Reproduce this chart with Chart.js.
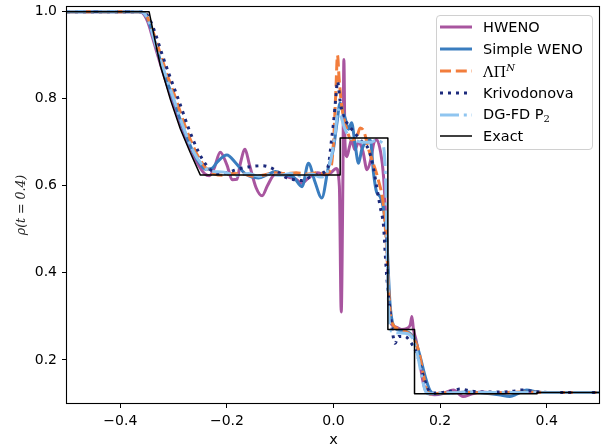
<!DOCTYPE html>
<html>
<head>
<meta charset="utf-8">
<script src="https://cdn.jsdelivr.net/npm/chart.js@4/dist/chart.umd.min.js"></script>
<style>
  html, body { margin: 0; padding: 0; background: #fff; }
  #wrap { position: relative; width: 601px; height: 447px; font-family: 'DejaVu Sans', sans-serif; }
  #legend {
    position: absolute; left: 436px; top: 15px; width: 155px;
    padding: 0 0 2px 0; border: 1px solid #d0d0d0; border-radius: 4px;
    background: rgba(255,255,255,0.8); font-size: 14.5px; color: #000;
  }
  .row { height: 21.9px; display: flex; align-items: center; white-space: nowrap; }
  .row svg { flex: none; margin-left: 3px; margin-right: 11px; }
  .m { font-family: 'DejaVu Serif', serif; }
  .m sup { font-style: italic; font-size: 10px; vertical-align: 6px; }
  sub { font-family: 'DejaVu Serif', serif; font-size: 10px; vertical-align: -3px; }
</style>
</head>
<body>
<div id="wrap">
  <canvas id="chart" width="601" height="447"></canvas>
  <div id="legend"></div>
</div>
<script>
// ===== DATA =====
const xTicks = [-0.4, -0.2, 0.0, 0.2, 0.4];
const yTicks = [0.2, 0.4, 0.6, 0.8, 1.0];

const seriesLabels = ['HWENO', 'Simple WENO', 'ΛΠᴺ', 'Krivodonova', 'DG-FD P₂', 'Exact'];

const hwenoX = [-0.5,-0.364,-0.355,-0.348,-0.34,-0.331,-0.321,-0.303,-0.2845,-0.266,-0.252,-0.242,-0.233,-0.224,-0.2125,-0.2,-0.19,-0.181,-0.175,-0.166,-0.158,-0.145,-0.134,-0.124,-0.1125,-0.1,-0.085,-0.07,-0.06,-0.045,-0.03,-0.015,-0.005,0.005,0.011,0.0145,0.0175,0.0195,0.0215,0.025,0.03,0.034,0.04,0.047,0.055,0.063,0.07,0.076,0.081,0.088,0.094,0.099,0.102,0.105,0.11,0.118,0.128,0.137,0.144,0.147,0.15,0.155,0.16,0.168,0.175,0.19,0.205,0.225,0.243,0.26,0.28,0.3,0.35,0.5];
const hwenoY = [1.0,1.0,0.993,0.975,0.943,0.905,0.865,0.797,0.731,0.677,0.645,0.628,0.623,0.64,0.677,0.648,0.614,0.615,0.65,0.684,0.65,0.595,0.577,0.60,0.624,0.628,0.62,0.615,0.606,0.62,0.63,0.625,0.63,0.64,0.60,0.31,0.60,0.89,0.70,0.667,0.69,0.706,0.683,0.70,0.68,0.637,0.66,0.70,0.706,0.68,0.62,0.50,0.40,0.31,0.28,0.275,0.27,0.272,0.28,0.30,0.27,0.245,0.21,0.15,0.125,0.12,0.123,0.131,0.116,0.122,0.126,0.124,0.125,0.125];

const wenoX = [-0.5,-0.362,-0.353,-0.346,-0.338,-0.329,-0.319,-0.3,-0.2815,-0.263,-0.25,-0.24,-0.228,-0.218,-0.2,-0.183,-0.166,-0.141,-0.125,-0.109,-0.091,-0.075,-0.059,-0.047,-0.035,-0.022,-0.01,0.0,0.006,0.0125,0.018,0.022,0.028,0.034,0.04,0.047,0.053,0.06,0.069,0.075,0.081,0.0875,0.094,0.1,0.103,0.106,0.11,0.119,0.1375,0.153,0.1625,0.172,0.181,0.19,0.22,0.25,0.28,0.31,0.331,0.345,0.3625,0.38,0.4,0.5];
const wenoY = [1.0,1.0,0.993,0.975,0.943,0.905,0.865,0.797,0.731,0.677,0.65,0.638,0.64,0.655,0.671,0.652,0.628,0.618,0.625,0.633,0.625,0.62,0.598,0.652,0.61,0.572,0.64,0.686,0.74,0.79,0.77,0.755,0.73,0.745,0.70,0.652,0.683,0.70,0.705,0.63,0.585,0.575,0.545,0.48,0.40,0.33,0.29,0.27,0.265,0.246,0.208,0.162,0.13,0.122,0.124,0.126,0.124,0.12,0.116,0.122,0.131,0.127,0.125,0.125];

const lpnX = [-0.5,-0.36,-0.352,-0.345,-0.336,-0.324,-0.312,-0.295,-0.2765,-0.258,-0.245,-0.235,-0.225,-0.21,-0.19,-0.17,-0.15,-0.13,-0.11,-0.09,-0.07,-0.05,-0.03,-0.015,-0.005,0.0,0.0045,0.0075,0.0106,0.0156,0.025,0.034,0.043,0.05,0.057,0.066,0.075,0.084,0.094,0.099,0.103,0.106,0.112,0.125,0.14,0.15,0.16,0.168,0.175,0.185,0.2,0.25,0.3,0.35,0.4,0.5];
const lpnY = [1.0,1.0,0.993,0.975,0.945,0.9,0.855,0.797,0.731,0.677,0.65,0.635,0.628,0.624,0.628,0.627,0.622,0.625,0.63,0.628,0.63,0.627,0.63,0.628,0.64,0.70,0.82,0.90,0.845,0.782,0.729,0.706,0.71,0.733,0.725,0.683,0.65,0.614,0.552,0.47,0.376,0.315,0.28,0.27,0.262,0.25,0.22,0.17,0.13,0.121,0.124,0.125,0.124,0.126,0.125,0.125];

const krivX = [-0.5,-0.36,-0.35,-0.342,-0.333,-0.321,-0.309,-0.29,-0.2715,-0.253,-0.24,-0.23,-0.215,-0.2,-0.18,-0.156,-0.134,-0.115,-0.1,-0.0875,-0.072,-0.059,-0.044,-0.022,-0.01,-0.003,0.0,0.0045,0.0075,0.0125,0.019,0.028,0.0375,0.053,0.066,0.075,0.081,0.0875,0.094,0.097,0.1,0.106,0.1156,0.122,0.134,0.144,0.156,0.169,0.178,0.19,0.22,0.238,0.26,0.3,0.33,0.356,0.38,0.42,0.5];
const krivY = [1.0,1.0,0.993,0.975,0.945,0.9,0.858,0.795,0.731,0.677,0.65,0.636,0.628,0.63,0.638,0.644,0.646,0.64,0.628,0.618,0.614,0.612,0.62,0.629,0.645,0.713,0.744,0.805,0.84,0.794,0.759,0.74,0.725,0.702,0.683,0.64,0.598,0.552,0.506,0.445,0.39,0.315,0.238,0.254,0.254,0.242,0.215,0.162,0.131,0.124,0.128,0.133,0.128,0.126,0.127,0.131,0.127,0.125,0.125];

const dgfdX = [-0.5,-0.362,-0.353,-0.346,-0.338,-0.329,-0.318,-0.299,-0.2805,-0.262,-0.249,-0.238,-0.225,-0.21,-0.195,-0.18,-0.16,-0.14,-0.12,-0.1,-0.08,-0.06,-0.04,-0.025,-0.015,-0.005,0.003,0.009,0.014,0.02,0.028,0.04,0.055,0.07,0.08,0.09,0.095,0.098,0.1,0.102,0.104,0.11,0.125,0.14,0.15,0.158,0.165,0.172,0.18,0.2,0.3,0.5];
const dgfdY = [1.0,1.0,0.993,0.975,0.943,0.905,0.865,0.797,0.731,0.677,0.652,0.638,0.633,0.632,0.628,0.624,0.628,0.622,0.626,0.624,0.628,0.622,0.627,0.62,0.625,0.66,0.72,0.775,0.76,0.735,0.715,0.705,0.70,0.70,0.705,0.70,0.68,0.6,0.48,0.38,0.3,0.265,0.262,0.26,0.245,0.21,0.165,0.13,0.122,0.124,0.125,0.125];

const exactX = [-0.5,-0.346,-0.335,-0.325,-0.306,-0.2875,-0.269,-0.25,0.0125,0.0125,0.102,0.102,0.152,0.152,0.382,0.382,0.5];
const exactY = [1.0,1.0,0.935,0.877,0.798,0.731,0.677,0.625,0.625,0.71,0.71,0.27,0.27,0.1225,0.1225,0.125,0.125];

// ===== HELPERS =====
const pts = (xs, ys) => xs.map((x, i) => ({ x, y: ys[i] }));
const fmt = v => v.toFixed(1).replace('-', '\u2212');

const STYLES = [
  { color: '#a8559f', width: 3, dash: [],             smooth: true,  order: 5 },
  { color: '#3a7dbf', width: 3, dash: [],             smooth: true,  order: 4 },
  { color: '#f27d3c', width: 3, dash: [11, 4.8],      smooth: true,  order: 3 },
  { color: '#1c2a7c', width: 3, dash: [3, 5],         smooth: true,  order: 2 },
  { color: '#8fc5f0', width: 3, dash: [19, 4.8, 3, 4.8], smooth: true, order: 1 },
  { color: '#000000', width: 1.5, dash: [],           smooth: false, order: 0 }
];
const SERIES_DATA = [
  pts(hwenoX, hwenoY), pts(wenoX, wenoY), pts(lpnX, lpnY),
  pts(krivX, krivY), pts(dgfdX, dgfdY), pts(exactX, exactY)
];

// ===== CHART =====
const framePlugin = {
  id: 'frame',
  afterDraw(chart) {
    const { ctx, chartArea: a } = chart;
    ctx.save();
    ctx.strokeStyle = '#000';
    ctx.lineWidth = 1.1;
    const x0 = a.left - 0.5, y0 = a.top - 0.5, x1 = a.right - 0.5, y1 = a.bottom + 0.5;
    ctx.strokeRect(x0, y0, x1 - x0, y1 - y0);
    ctx.restore();
  }
};

const tickFont = { family: "'DejaVu Sans'", size: 14 };
const gridOpts = { display: true, drawOnChartArea: false, drawTicks: true, tickLength: 5, tickColor: '#000', tickWidth: 1, color: '#000' };

new Chart(document.getElementById('chart'), {
  type: 'line',
  data: {
    datasets: seriesLabels.map((label, i) => ({
      label,
      data: SERIES_DATA[i],
      borderColor: STYLES[i].color,
      backgroundColor: STYLES[i].color,
      borderWidth: STYLES[i].width,
      borderDash: STYLES[i].dash,
      borderJoinStyle: 'round',
      cubicInterpolationMode: STYLES[i].smooth ? 'monotone' : 'default',
      tension: 0,
      pointRadius: 0,
      fill: false,
      order: STYLES[i].order
    }))
  },
  options: {
    responsive: false,
    animation: false,
    layout: { padding: { top: 7, right: 1, left: 0, bottom: 0 } },
    plugins: { legend: { display: false }, tooltip: { enabled: false } },
    scales: {
      x: {
        type: 'linear', min: -0.5, max: 0.5,
        afterBuildTicks: ax => { ax.ticks = xTicks.map(v => ({ value: v })); },
        afterFit: s => { s.height = 44; s.paddingLeft = 0; s.paddingRight = 0; },
        grid: gridOpts,
        border: { display: false },
        ticks: { font: tickFont, color: '#000', padding: 5, maxRotation: 0, callback: v => fmt(v) },
        title: { display: true, text: 'x', color: '#000', font: { family: "'DejaVu Sans'", size: 14.5, lineHeight: 1 }, padding: { top: 0, bottom: 0 } }
      },
      y: {
        type: 'linear', min: 0.101, max: 1.0108,
        afterBuildTicks: ax => { ax.ticks = yTicks.map(v => ({ value: v })); },
        afterFit: s => { s.width = 67; s.paddingTop = 0; s.paddingBottom = 0; },
        grid: gridOpts,
        border: { display: false },
        ticks: { font: tickFont, color: '#000', padding: 5, callback: v => fmt(v) },
        title: { display: true, text: 'ρ(t = 0.4)', color: '#222', font: { family: "'DejaVu Serif'", style: 'italic', size: 12.5, lineHeight: 1 }, padding: { top: 15, bottom: 0 } }
      }
    }
  },
  plugins: [framePlugin]
});

// ===== LEGEND =====
const legendHtml = ['HWENO', 'Simple WENO', '<span class="m">ΛΠ<sup>N</sup></span>', 'Krivodonova', 'DG-FD P<sub>2</sub>', 'Exact'];
document.getElementById('legend').innerHTML = seriesLabels.map((label, i) => {
  const s = STYLES[i];
  return `
    <div class="row" title="${label}">
      <svg width="32" height="22"><line x1="0" y1="11" x2="32" y2="11" stroke="${s.color}" stroke-width="${s.width}" stroke-dasharray="${s.dash.join(' ')}"/></svg>
      <span>${legendHtml[i]}</span>
    </div>`;
}).join('');
</script>
</body>
</html>
